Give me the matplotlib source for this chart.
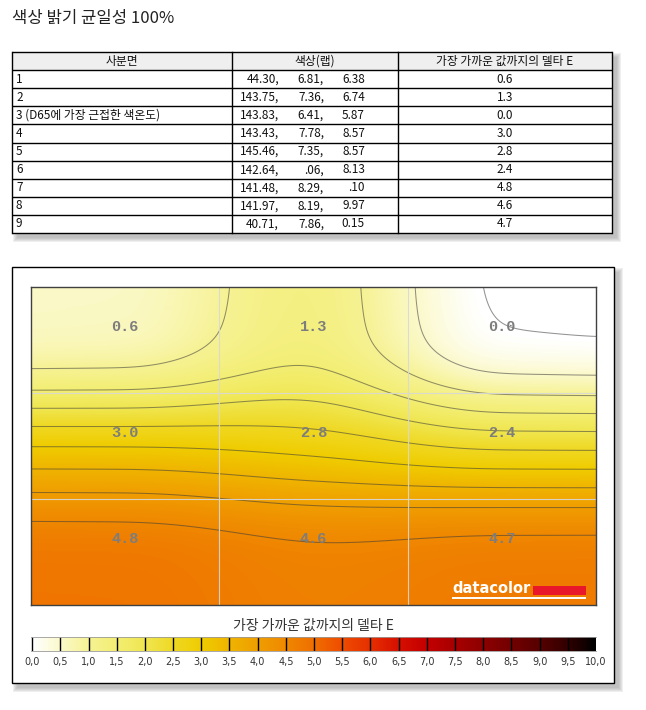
import matplotlib
matplotlib.use("Agg")
import matplotlib.pyplot as plt
import numpy as np
from matplotlib.colors import LinearSegmentedColormap
from matplotlib.patches import Rectangle

################################################################################
# data                                                                         #
################################################################################
titleText = "색상 밝기 균일성 100%"
headerLabels = ["사분면", "색상(랩)", "가장 가까운 값까지의 델타 E"]
quadrantNames = ["1", "2", "3 (D65에 가장 근접한 색온도)", "4", "5", "6", "7", "8", "9"]
labL = ["44.30", "143.75", "143.83", "143.43", "145.46", "142.64", "141.48", "141.97", "40.71"]
labA = ["6.81", "7.36", "6.41", "7.78", "7.35", ".06", "8.29", "8.19", "7.86"]
labB = ["6.38", "6.74", "5.87", "8.57", "8.57", "8.13", ".10", "9.97", "0.15"]
deltaE = [0.6, 1.3, 0.0, 3.0, 2.8, 2.4, 4.8, 4.6, 4.7]
colorbarTicks = [0.0, 0.5, 1.0, 1.5, 2.0, 2.5, 3.0, 3.5, 4.0, 4.5, 5.0,
                 5.5, 6.0, 6.5, 7.0, 7.5, 8.0, 8.5, 9.0, 9.5, 10.0]
colorbarTitle = "가장 가까운 값까지의 델타 E"
cmapStops = ["#ffffff", "#fbf9c8", "#f6f292", "#f3ee72", "#f0e650", "#efd822",
             "#efcc00", "#efb400", "#ef9e00", "#ef8800", "#ef6e00", "#ef4c00",
             "#e63000", "#d61000", "#c40000", "#a80000", "#8e0000", "#740000",
             "#580000", "#340000", "#000000"]

korFont = ["Noto Sans CJK KR", "DejaVu Sans"]

################################################################################
# helpers                                                                      #
################################################################################
figW, figH = 646, 710
fig = plt.figure(figsize=(figW / 100, figH / 100), dpi=100)


def pxAxes(left, top, right, bottom):
    return fig.add_axes([left / figW, 1 - bottom / figH,
                         (right - left) / figW, (bottom - top) / figH])


# Hermite weights of the three cell centres along one axis. Past the end
# centres the surface keeps a small slope (edgeSlope times the end step).
def nodeWeights(u, edgeSlope=0.06):
    p = np.eye(3)
    tangent = np.array([edgeSlope * (p[1] - p[0]),
                        (p[2] - p[0]) / 2,
                        edgeSlope * (p[2] - p[1])])
    weights = np.zeros((len(u), 3))
    for n, x in enumerate(u):
        s = x - 0.5
        if s < 0:
            weights[n] = p[0] + s * tangent[0]
            continue
        if s > 2:
            weights[n] = p[2] + (s - 2) * tangent[2]
            continue
        i = min(int(s), 1)
        f = s - i
        h00 = 2 * f**3 - 3 * f**2 + 1
        h10 = f**3 - 2 * f**2 + f
        h01 = -2 * f**3 + 3 * f**2
        h11 = f**3 - f**2
        weights[n] = (h00 * p[i] + h10 * tangent[i]
                      + h01 * p[i + 1] + h11 * tangent[i + 1])
    return weights


def gaussBlur(img, sigma):
    half = int(3 * sigma)
    kern = np.exp(-0.5 * (np.arange(-half, half + 1) / sigma) ** 2)
    kern /= kern.sum()
    pad = np.pad(img, half, mode="edge")
    pad = np.apply_along_axis(lambda v: np.convolve(v, kern, mode="same"), 0, pad)
    pad = np.apply_along_axis(lambda v: np.convolve(v, kern, mode="same"), 1, pad)
    return pad[half:-half, half:-half]


def shadowBox(ax, x0, y0, x1, y1):
    for grow in [4, 3, 2, 1, 0]:
        ax.add_patch(Rectangle((x0 + 5 - grow, y0 + 5 - grow),
                               x1 - x0 + 2 * grow, y1 - y0 + 2 * grow,
                               facecolor="#808080", edgecolor="none",
                               alpha=0.12, zorder=1))


################################################################################
# canvas, title and table                                                      #
################################################################################
ax0 = fig.add_axes([0, 0, 1, 1])
ax0.set_xlim(0, figW)
ax0.set_ylim(figH, 0)
ax0.axis("off")

ax0.text(12, 18, titleText, fontsize=12, family=korFont, color="#222222",
         ha="left", va="center")

colX = [12, 232, 398, 612]
rowTop = 52
rowH = 18.1
nRows = len(quadrantNames) + 1
tableBottom = rowTop + nRows * rowH

shadowBox(ax0, colX[0], rowTop, colX[-1], tableBottom)
ax0.add_patch(Rectangle((colX[0], rowTop), colX[-1] - colX[0],
                        tableBottom - rowTop, facecolor="white",
                        edgecolor="none", zorder=2))
ax0.add_patch(Rectangle((colX[0], rowTop), colX[-1] - colX[0], rowH,
                        facecolor="#efefef", edgecolor="none", zorder=2))
for k in range(nRows + 1):
    ax0.plot([colX[0], colX[-1]], [rowTop + k * rowH] * 2, color="black",
             lw=1, zorder=3, solid_capstyle="butt")
for x in colX:
    ax0.plot([x, x], [rowTop, tableBottom], color="black", lw=1, zorder=3)

for c, label in enumerate(headerLabels):
    ax0.text((colX[c] + colX[c + 1]) / 2, rowTop + rowH / 2, label,
             fontsize=8.5, family=korFont, color="#111111",
             ha="center", va="center", zorder=4)

for r in range(len(quadrantNames)):
    yc = rowTop + (r + 1.5) * rowH
    ax0.text(16, yc, quadrantNames[r], fontsize=8.5, family=korFont,
             color="#111111", ha="left", va="center", zorder=4)
    ax0.text(279, yc, labL[r] + ",", fontsize=8.5, family=korFont,
             color="#111111", ha="right", va="center", zorder=4)
    ax0.text(324, yc, labA[r] + ",", fontsize=8.5, family=korFont,
             color="#111111", ha="right", va="center", zorder=4)
    ax0.text(365, yc, labB[r], fontsize=8.5, family=korFont,
             color="#111111", ha="right", va="center", zorder=4)
    ax0.text((colX[2] + colX[3]) / 2, yc, f"{deltaE[r]:.1f}", fontsize=8.5,
             family=korFont, color="#111111", ha="center", va="center",
             zorder=4)

################################################################################
# uniformity panel                                                             #
################################################################################
panel = [12, 267, 614, 683]
shadowBox(ax0, *panel)
ax0.add_patch(Rectangle((panel[0], panel[1]), panel[2] - panel[0],
                        panel[3] - panel[1], facecolor="white",
                        edgecolor="black", lw=1, zorder=2))

cmap = LinearSegmentedColormap.from_list("deltaE", cmapStops)
grid = np.array(deltaE).reshape(3, 3)

xs = np.linspace(0, 3, 565)
ys = np.linspace(0, 3, 318)
field = nodeWeights(ys) @ grid @ nodeWeights(xs).T
field = gaussBlur(field, 18)

axH = pxAxes(31, 287, 596, 605)
axH.imshow(np.clip(field, 0, 10), cmap=cmap, vmin=0, vmax=10,
           extent=[0, 3, 3, 0], aspect="auto", interpolation="bilinear")
axH.contour(xs, ys, field, levels=np.array(colorbarTicks[:-1]),
            colors="#3a3a3a", linewidths=0.75, alpha=0.55)
for g in [1, 2]:
    axH.axvline(g, color="#d8d8d8", lw=0.8, alpha=0.9)
    axH.axhline(g, color="#d8d8d8", lw=0.8, alpha=0.9)
for r in range(3):
    for c in range(3):
        axH.text(c + 0.5, r + 0.38, f"{grid[r, c]:.1f}", fontsize=11,
                 family="Liberation Mono", fontweight="bold",
                 color="#7d7d7d", ha="center", va="center")
axH.set_xlim(0, 3)
axH.set_ylim(3, 0)
axH.set_xticks([])
axH.set_yticks([])
for spine in axH.spines.values():
    spine.set_color("#404040")
    spine.set_linewidth(1)

# datacolor logo
axH.text(0.745, 0.038, "datacolor", transform=axH.transAxes, fontsize=10.5,
         fontweight="bold", color="white", ha="left", va="baseline")
axH.add_patch(Rectangle((0.888, 0.031), 0.094, 0.030,
                        transform=axH.transAxes, facecolor="#e8172a",
                        edgecolor="none"))
axH.plot([0.745, 0.982], [0.022, 0.022], transform=axH.transAxes,
         color="white", lw=1.4, solid_capstyle="butt")

# colour bar
ax0.text(313, 626, colorbarTitle, fontsize=10, family=korFont,
         color="#333333", ha="center", va="center", zorder=4)
axC = pxAxes(31, 637, 596, 651)
axC.imshow(np.linspace(0, 10, 600)[None, :], cmap=cmap, vmin=0, vmax=10,
           extent=[0, 10, 0, 1], aspect="auto")
axC.vlines(colorbarTicks, 0, 1, color="black", lw=1)
axC.set_xlim(-0.02, 10)
axC.set_ylim(0, 1)
axC.set_yticks([])
axC.set_xticks(colorbarTicks)
axC.set_xticklabels([f"{t:.1f}".replace(".", ",") for t in colorbarTicks],
                    fontsize=7, color="#333333")
axC.tick_params(axis="x", length=0, pad=4)
for name, spine in axC.spines.items():
    spine.set_visible(name in ("top", "bottom"))
    spine.set_color("#9a9a9a")
    spine.set_linewidth(0.6)

fig.savefig("out.png", dpi=100)
